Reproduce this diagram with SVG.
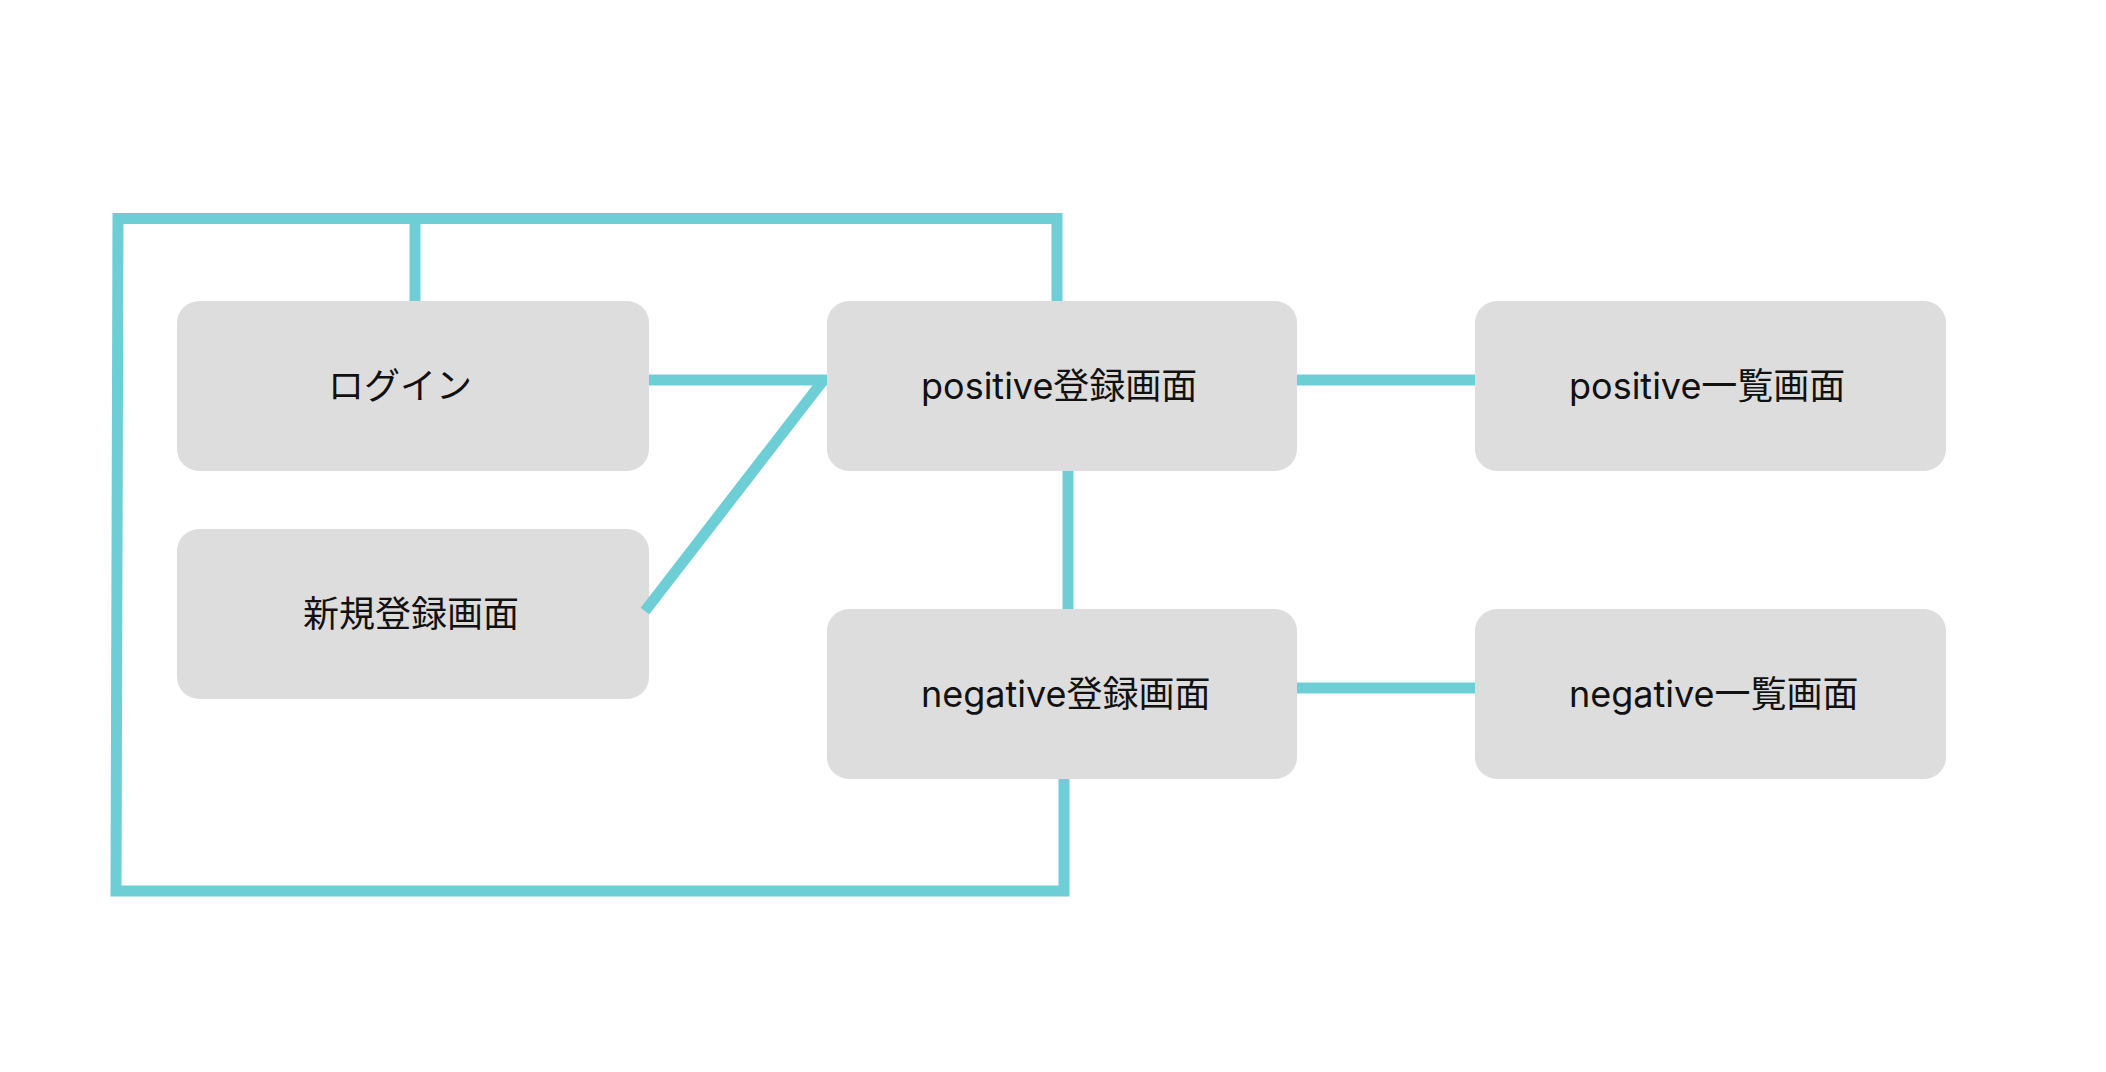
<svg xmlns="http://www.w3.org/2000/svg" width="2106" height="1072" viewBox="0 0 2106 1072">
<style>
.box{fill:#DDDDDD}
.lbl{font-family:"Inter","Noto Sans CJK JP",sans-serif;font-size:36px;fill:#111111}
.con{fill:none;stroke:#6ECED5;stroke-width:11;stroke-linejoin:miter;stroke-linecap:butt}
</style>
<rect width="2106" height="1072" fill="#FFFFFF"/>
<g id="node-login"><rect class="box" x="177" y="301" width="472" height="170" rx="22"/><text class="lbl" x="328" y="399">ログイン</text></g>
<g id="node-signup"><rect class="box" x="177" y="529" width="472" height="170" rx="22"/><text class="lbl" x="303" y="627">新規登録画面</text></g>
<g id="node-positive-register"><rect class="box" x="827" y="301" width="470" height="170" rx="22"/><text class="lbl" x="921" y="399">positive登録画面</text></g>
<g id="node-negative-register"><rect class="box" x="827" y="609" width="470" height="170" rx="22"/><text class="lbl" x="921" y="707">negative登録画面</text></g>
<g id="node-positive-list"><rect class="box" x="1475" y="301" width="471" height="170" rx="22"/><text class="lbl" x="1569" y="399">positive一覧画面</text></g>
<g id="node-negative-list"><rect class="box" x="1475" y="609" width="471" height="170" rx="22"/><text class="lbl" x="1569" y="707">negative一覧画面</text></g>
<g id="connectors">
<path class="con" d="M1057,301 V218.5 H118 L116,891 H1064 V779"/>
<path class="con" d="M415,301 V218.5"/>
<path class="con" d="M649,380 H827"/>
<path class="con" d="M822,382 L645,611"/>
<path class="con" d="M1297,380 H1475"/>
<path class="con" d="M1068,471 V609"/>
<path class="con" d="M1297,688 H1475"/>
</g>
</svg>
